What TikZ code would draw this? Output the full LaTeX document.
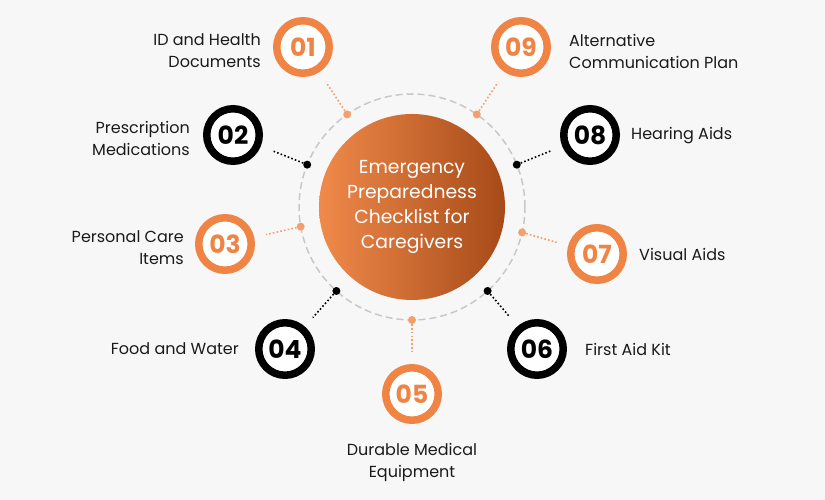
\documentclass[tikz,border=0pt]{standalone}
\usepackage{fontspec}
\setmainfont{Poppins}
\usetikzlibrary{positioning,shadows,calc}
\definecolor{bgc}{HTML}{F7F7F7}
\definecolor{accent}{HTML}{EF8445}
\definecolor{accentL}{HTML}{F4A06E}
\definecolor{hubL}{HTML}{F08A4B}
\definecolor{hubD}{HTML}{A64A18}
\definecolor{ringgray}{HTML}{C8C8C8}
\definecolor{ink}{HTML}{1A1A1A}

\begin{document}
\begin{tikzpicture}[x=1pt, y=1pt,
    badge/.style={circle, draw=#1, line width=7.5pt, fill=white, minimum size=52.5pt, inner sep=0pt,
        font=\fontsize{25}{25}\selectfont\bfseries, text=#1,
        drop shadow={opacity=0.25, shadow xshift=1.5pt, shadow yshift=-2.5pt}},
    pin/.style={circle, fill=#1, minimum size=8pt, inner sep=0pt},
    link/.style={draw=#1, line width=1.6pt, dash pattern=on 1.6pt off 2.2pt, shorten >=12pt},
    lbl/.style={font=\fontsize{16}{22}\selectfont, text=ink, inner sep=0pt}]

    % Background
    \fill[bgc] (0, 0) rectangle (825, 500);
    \useasboundingbox (0, 0) rectangle (825, 500);

    % Dashed ring and center
    \coordinate (c) at (412, 293);
    \draw[ringgray, line width=1.5pt, dash pattern=on 7pt off 4pt] (c) circle (113);
    \node[circle, minimum size=186pt, inner sep=0pt, left color=hubL, right color=hubD,
        text=white, align=center, font=\fontsize{18.8}{25}\selectfont] (hub) at (c)
        {Emergency\\Preparedness\\Checklist for\\Caregivers};

    % Points on the ring
    \node[pin=accentL] (p1) at ($(c)+(125:113)$) {};
    \node[pin=accentL] (p9) at ($(c)+(55:113)$) {};
    \node[pin=black]   (p2) at ($(c)+(158:113)$) {};
    \node[pin=black]   (p8) at ($(c)+(22:113)$) {};
    \node[pin=accentL] (p3) at ($(c)+(190:113)$) {};
    \node[pin=accentL] (p7) at ($(c)+(-13:113)$) {};
    \node[pin=black]   (p4) at ($(c)+(228:113)$) {};
    \node[pin=black]   (p6) at ($(c)+(-48:113)$) {};
    \node[pin=accentL] (p5) at ($(c)+(-90:113)$) {};

    % Badges
    \node[badge=accent] (b1) at (303, 453) {01};
    \node[badge=accent] (b9) at (521, 453) {09};
    \node[badge=black]  (b2) at (233, 365) {02};
    \node[badge=black]  (b8) at (590, 365) {08};
    \node[badge=accent] (b3) at (225, 256) {03};
    \node[badge=accent] (b7) at (597, 246) {07};
    \node[badge=black]  (b4) at (285, 151) {04};
    \node[badge=black]  (b6) at (537, 151) {06};
    \node[badge=accent] (b5) at (412, 106) {05};

    % Dotted links
    \draw[link=accentL] (p1) -- (b1);
    \draw[link=accentL] (p9) -- (b9);
    \draw[link=black]   (p2) -- (b2);
    \draw[link=black]   (p8) -- (b8);
    \draw[link=accentL] (p3) -- (b3);
    \draw[link=accentL] (p7) -- (b7);
    \draw[link=black]   (p4) -- (b4);
    \draw[link=black]   (p6) -- (b6);
    \draw[link=accentL] (p5) -- (b5);

    % Labels
    \node[lbl, align=right, left=12pt of b1, yshift=-4pt] (t1) {ID and Health\\Documents};
    \node[lbl, align=left, right=18pt of b9, yshift=-4pt] (t9) {Alternative\\Communication Plan};
    \node[lbl, align=right, left=13pt of b2, yshift=-3pt] (t2) {Prescription\\Medications};
    \node[lbl, right=11pt of b8, yshift=-1pt] (t8) {Hearing Aids};
    \node[lbl, align=right, left=11pt of b3, yshift=-4pt] (t3) {Personal Care\\Items};
    \node[lbl, right=12pt of b7] (t7) {Visual Aids};
    \node[lbl, left=16pt of b4] (t4) {Food and Water};
    \node[lbl, right=18pt of b6] (t6) {First Aid Kit};
    \node[lbl, align=center, below=19pt of b5] (t5) {Durable Medical\\Equipment};
\end{tikzpicture}
\end{document}
